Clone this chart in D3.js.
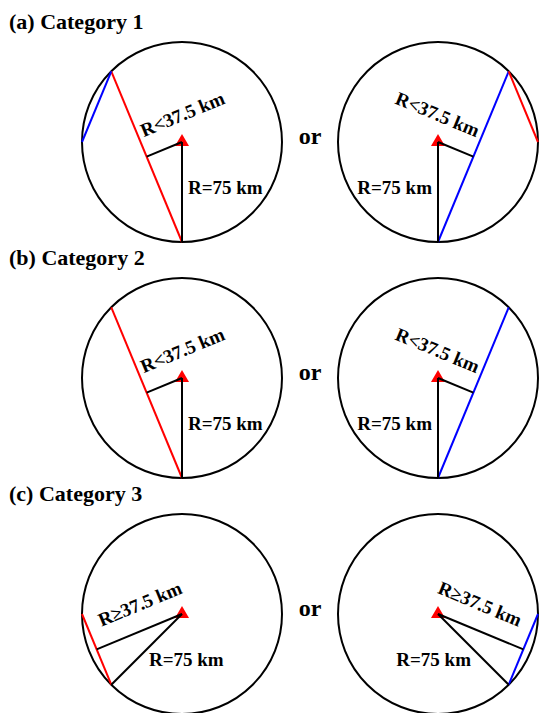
<!DOCTYPE html>
<html>
<head>
<meta charset="utf-8">
<script src="https://cdn.jsdelivr.net/npm/d3@7"></script>
<style>
	body{ margin:0; background:#fff; }
	text{ font-family:"Liberation Serif","Times New Roman",serif; font-weight:bold; fill:#000; }
</style>
</head>
<body>
<div id="chart"></div>
<script>
//data
var rowTitles = ["(a) Category 1", "(b) Category 2", "(c) Category 3"];
var radiusKm = 75;
var radiusLabel = "R=75 km";
var distLabels = ["R<37.5 km", "R<37.5 km", "R\u226537.5 km"];
var orLabel = "or";
//chord end points, degrees (0 = east, clockwise on screen)
var mainChordLeft  = [[90, 225], [90, 225], [135, 180]];
var mainChordRight = [[90, -45], [90, -45], [45, 0]];
var extraChordLeft  = [[180, 225], null, null];
var extraChordRight = [[-45, 0], null, null];

var width = 539, height = 713;

var svg = d3.select("#chart").append("svg").attr("width", width).attr("height", height);

//scales
var rScale = d3.scaleLinear().domain([0, radiusKm]).range([0, 100]);
var rowY = d3.scaleLinear().domain([0, rowTitles.length - 1]).range([142, 614]);
var colX = d3.scaleOrdinal().domain(["left", "right"]).range([182, 438]);
//red chords go down to the right, blue ones down to the left
var chordColor = d3.scaleOrdinal().domain(["down-right", "down-left"]).range(["#ff0000", "#0000ff"]);

var rad = function(deg){ return deg * Math.PI / 180; };

var drawDiagram = function(i, side, main, extra){
	var cx = colX(side), cy = rowY(i);
	var R = rScale(radiusKm);
	var pt = function(a){ return [cx + R * Math.cos(rad(a)), cy + R * Math.sin(rad(a))]; };
	var g = svg.append("g");

	g.append("circle").attr("cx", cx).attr("cy", cy).attr("r", R)
		.attr("fill", "none").attr("stroke", "#000").attr("stroke-width", 2);

	//station
	g.append("path").attr("d", d3.symbol(d3.symbolTriangle, 85)())
		.attr("transform", "translate(" + cx + "," + cy + ")")
		.attr("fill", "#ff0000");

	var chords = [main];
	if(extra){ chords.push(extra); }
	g.selectAll(".chord").data(chords).enter().append("line")
		.attr("class", "chord")
		.attr("x1", function(d){ return pt(d[0])[0]; })
		.attr("y1", function(d){ return pt(d[0])[1]; })
		.attr("x2", function(d){ return pt(d[1])[0]; })
		.attr("y2", function(d){ return pt(d[1])[1]; })
		.attr("stroke", function(d){
			var p = pt(d[0]), q = pt(d[1]);
			var slope = (q[1] - p[1]) / (q[0] - p[0]);
			return chordColor(slope > 0 ? "down-right" : "down-left");
		})
		.attr("stroke-width", 2);

	//R = 75 km line to the chord end
	var end = pt(main[0]);
	g.append("line").attr("x1", cx).attr("y1", cy).attr("x2", end[0]).attr("y2", end[1])
		.attr("stroke", "#000").attr("stroke-width", 2);

	//perpendicular to the chord
	var p = pt(main[0]), q = pt(main[1]);
	var foot = [(p[0] + q[0]) / 2, (p[1] + q[1]) / 2];
	g.append("line").attr("x1", cx).attr("y1", cy).attr("x2", foot[0]).attr("y2", foot[1])
		.attr("stroke", "#000").attr("stroke-width", 2);

	var len = Math.hypot(foot[0] - cx, foot[1] - cy);
	var u = [(foot[0] - cx) / len, (foot[1] - cy) / len];
	var phi = u[0] < 0 ? Math.atan2(-u[1], -u[0]) : Math.atan2(u[1], u[0]);
	var n = [Math.sin(phi), -Math.cos(phi)];
	var t = 0.85 * len - 43.6;
	var tx = cx + u[0] * t + n[0] * 19;
	var ty = cy + u[1] * t + n[1] * 19;
	g.append("text").text(distLabels[i])
		.attr("text-anchor", "middle")
		.attr("transform", "translate(" + tx + "," + ty + ") rotate(" + (phi * 180 / Math.PI) + ")")
		.style("font-size", "19px");

	//R = 75 km label beside the line
	var v = [Math.cos(rad(main[0])), Math.sin(rad(main[0]))];
	var lx = cx + 39 / v[1] * v[0];
	g.append("text").text(radiusLabel)
		.attr("x", side === "left" ? lx + 6 : lx - 6)
		.attr("y", cy + 52)
		.attr("text-anchor", side === "left" ? "start" : "end")
		.style("font-size", "19px");
};

for(i = 0; i < rowTitles.length; i++){
	svg.append("text").text(rowTitles[i])
		.attr("x", 9).attr("y", rowY(i) - 113)
		.style("font-size", "22px");

	drawDiagram(i, "left", mainChordLeft[i], extraChordLeft[i]);
	drawDiagram(i, "right", mainChordRight[i], extraChordRight[i]);

	svg.append("text").text(orLabel)
		.attr("x", 310).attr("y", rowY(i) + 2)
		.attr("text-anchor", "middle")
		.style("font-size", "24px");
};
</script>
</body>
</html>
